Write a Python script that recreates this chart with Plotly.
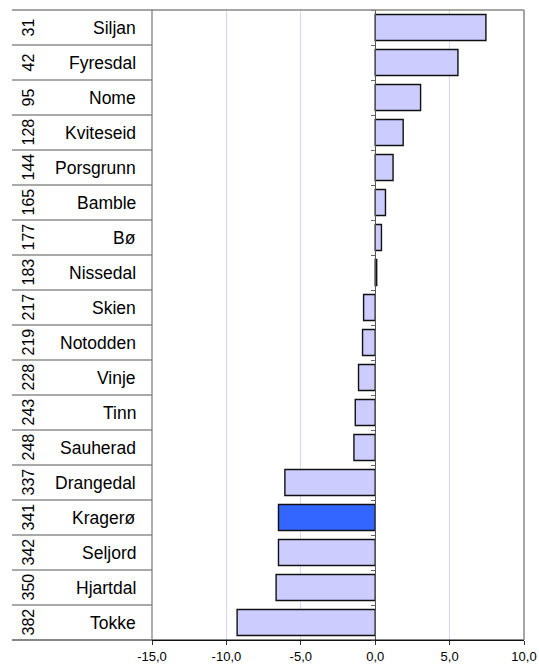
import plotly.graph_objects as go

names = ["Siljan", "Fyresdal", "Nome", "Kviteseid", "Porsgrunn", "Bamble", "Bø",
         "Nissedal", "Skien", "Notodden", "Vinje", "Tinn", "Sauherad", "Drangedal",
         "Kragerø", "Seljord", "Hjartdal", "Tokke"]
ranks = ["31", "42", "95", "128", "144", "165", "177", "183", "217", "219", "228",
         "243", "248", "337", "341", "342", "350", "382"]
values = [7.44, 5.56, 3.05, 1.88, 1.2, 0.69, 0.42, 0.1, -0.78, -0.85, -1.12,
          -1.34, -1.43, -6.07, -6.5, -6.5, -6.66, -9.28]
highlight = "Kragerø"
x_ticks = [-15, -10, -5, 0, 5, 10]
x_tick_labels = ["-15,0", "-10,0", "-5,0", "0,0", "5,0", "10,0"]

n = len(names)
pos = list(range(n))
colors = ["#3366ff" if nm == highlight else "#ccccff" for nm in names]

W, H = 539, 666
L, R, T, B = 152, 15, 10, 26
plot_w = W - L - R
table_left = (12 - L) / plot_w
rank_x = (28 - L) / plot_w
name_x = (138 - L) / plot_w
xmin, xmax = x_ticks[0], x_ticks[-1]
zero_pos = (0 - xmin) / (xmax - xmin)
FONT = "Liberation Sans, Arial"

fig = go.Figure()
fig.add_trace(go.Bar(
    x=values, y=pos, orientation="h",
    marker=dict(color=colors, line=dict(color="#111111", width=1.4)),
    hoverinfo="x+text", text=names, textposition="none",
))

shapes = []
for i in range(n - 1):
    shapes.append(dict(type="line", xref="paper", yref="y", x0=table_left, x1=0,
                       y0=i + 0.5, y1=i + 0.5, line=dict(color="#555555", width=1)))
shapes.append(dict(type="line", xref="paper", yref="paper", x0=table_left, x1=1,
                   y0=1, y1=1, line=dict(color="#888888", width=1.5)))
shapes.append(dict(type="line", xref="paper", yref="paper", x0=table_left, x1=1,
                   y0=0, y1=0, line=dict(color="#111111", width=1.2)))
shapes.append(dict(type="line", xref="paper", yref="paper", x0=0, x1=0,
                   y0=0, y1=1, line=dict(color="#777777", width=1.2)))
shapes.append(dict(type="line", xref="paper", yref="paper", x0=1, x1=1,
                   y0=0, y1=1, line=dict(color="#888888", width=1.5)))

annotations = []
for i in range(n):
    annotations.append(dict(xref="paper", yref="y", x=rank_x, y=i, text=ranks[i],
                            textangle=-90, showarrow=False, xanchor="center",
                            yanchor="middle",
                            font=dict(family=FONT, size=16, color="#000")))
    annotations.append(dict(xref="paper", yref="y", x=name_x, y=i, text=names[i],
                            showarrow=False, xanchor="right", yanchor="middle",
                            font=dict(family=FONT, size=17.5, color="#000")))

fig.update_layout(
    width=W, height=H, autosize=False,
    margin=dict(l=L, r=R, t=T, b=B, pad=0, autoexpand=False),
    paper_bgcolor="white", plot_bgcolor="white",
    bargap=0.26,
    showlegend=False,
    shapes=shapes,
    annotations=annotations,
    font=dict(family=FONT, color="#000"),
    xaxis=dict(range=[xmin, xmax], tickvals=x_ticks, ticktext=x_tick_labels,
               showgrid=True, gridcolor="#d6d6ff", gridwidth=1,
               zeroline=False, showline=True, linecolor="#111111", linewidth=1.2,
               ticks="outside", ticklen=4, tickcolor="#333333",
               tickfont=dict(size=13, family=FONT, color="#000"),
               automargin=False, fixedrange=True),
    yaxis=dict(range=[n - 0.5, -0.5], anchor="free", position=zero_pos,
               tickvals=[i - 0.5 for i in range(n + 1)], showticklabels=False,
               ticks="outside", ticklen=4, tickcolor="#666666",
               showline=True, linecolor="#555555", linewidth=1.2,
               showgrid=False, zeroline=False, automargin=False, fixedrange=True),
)

fig.write_html(
    "out.html",
    config={"displayModeBar": False},
    post_script="document.body.style.margin='0';document.body.style.overflow='hidden';",
)
